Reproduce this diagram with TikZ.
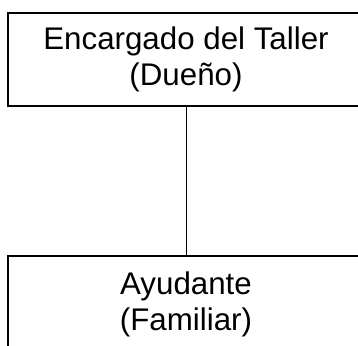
\documentclass[tikz,border=0pt]{standalone}
\usepackage{fontspec}
\setmainfont{Liberation Sans}
\begin{document}
\begin{tikzpicture}[x=1pt,y=1pt,
  box/.style={draw=black, line width=1.2pt, rectangle, inner sep=0pt, minimum width=357pt},
  txt/.style={anchor=base, inner sep=0pt, font=\fontsize{31.3}{36}\selectfont},
  conn/.style={draw=black, line width=1.2pt}]
\useasboundingbox (0,0) rectangle (358,345);
\clip (0,0) rectangle (358,345);
\node[box, minimum height=93pt] (top) at (186.5,285.5) {};
\node[box, minimum height=94pt] (bottom) at (186.5,42) {};
\node[txt] (top1) at (186,295) {Encargado del Taller};
\node[txt] (top2) at (186,259) {(Dueño)};
\node[txt] (bot1) at (186,51) {Ayudante};
\node[txt] (bot2) at (186,15) {(Familiar)};
\draw[conn] (top.south) -- (bottom.north);
\end{tikzpicture}
\end{document}
